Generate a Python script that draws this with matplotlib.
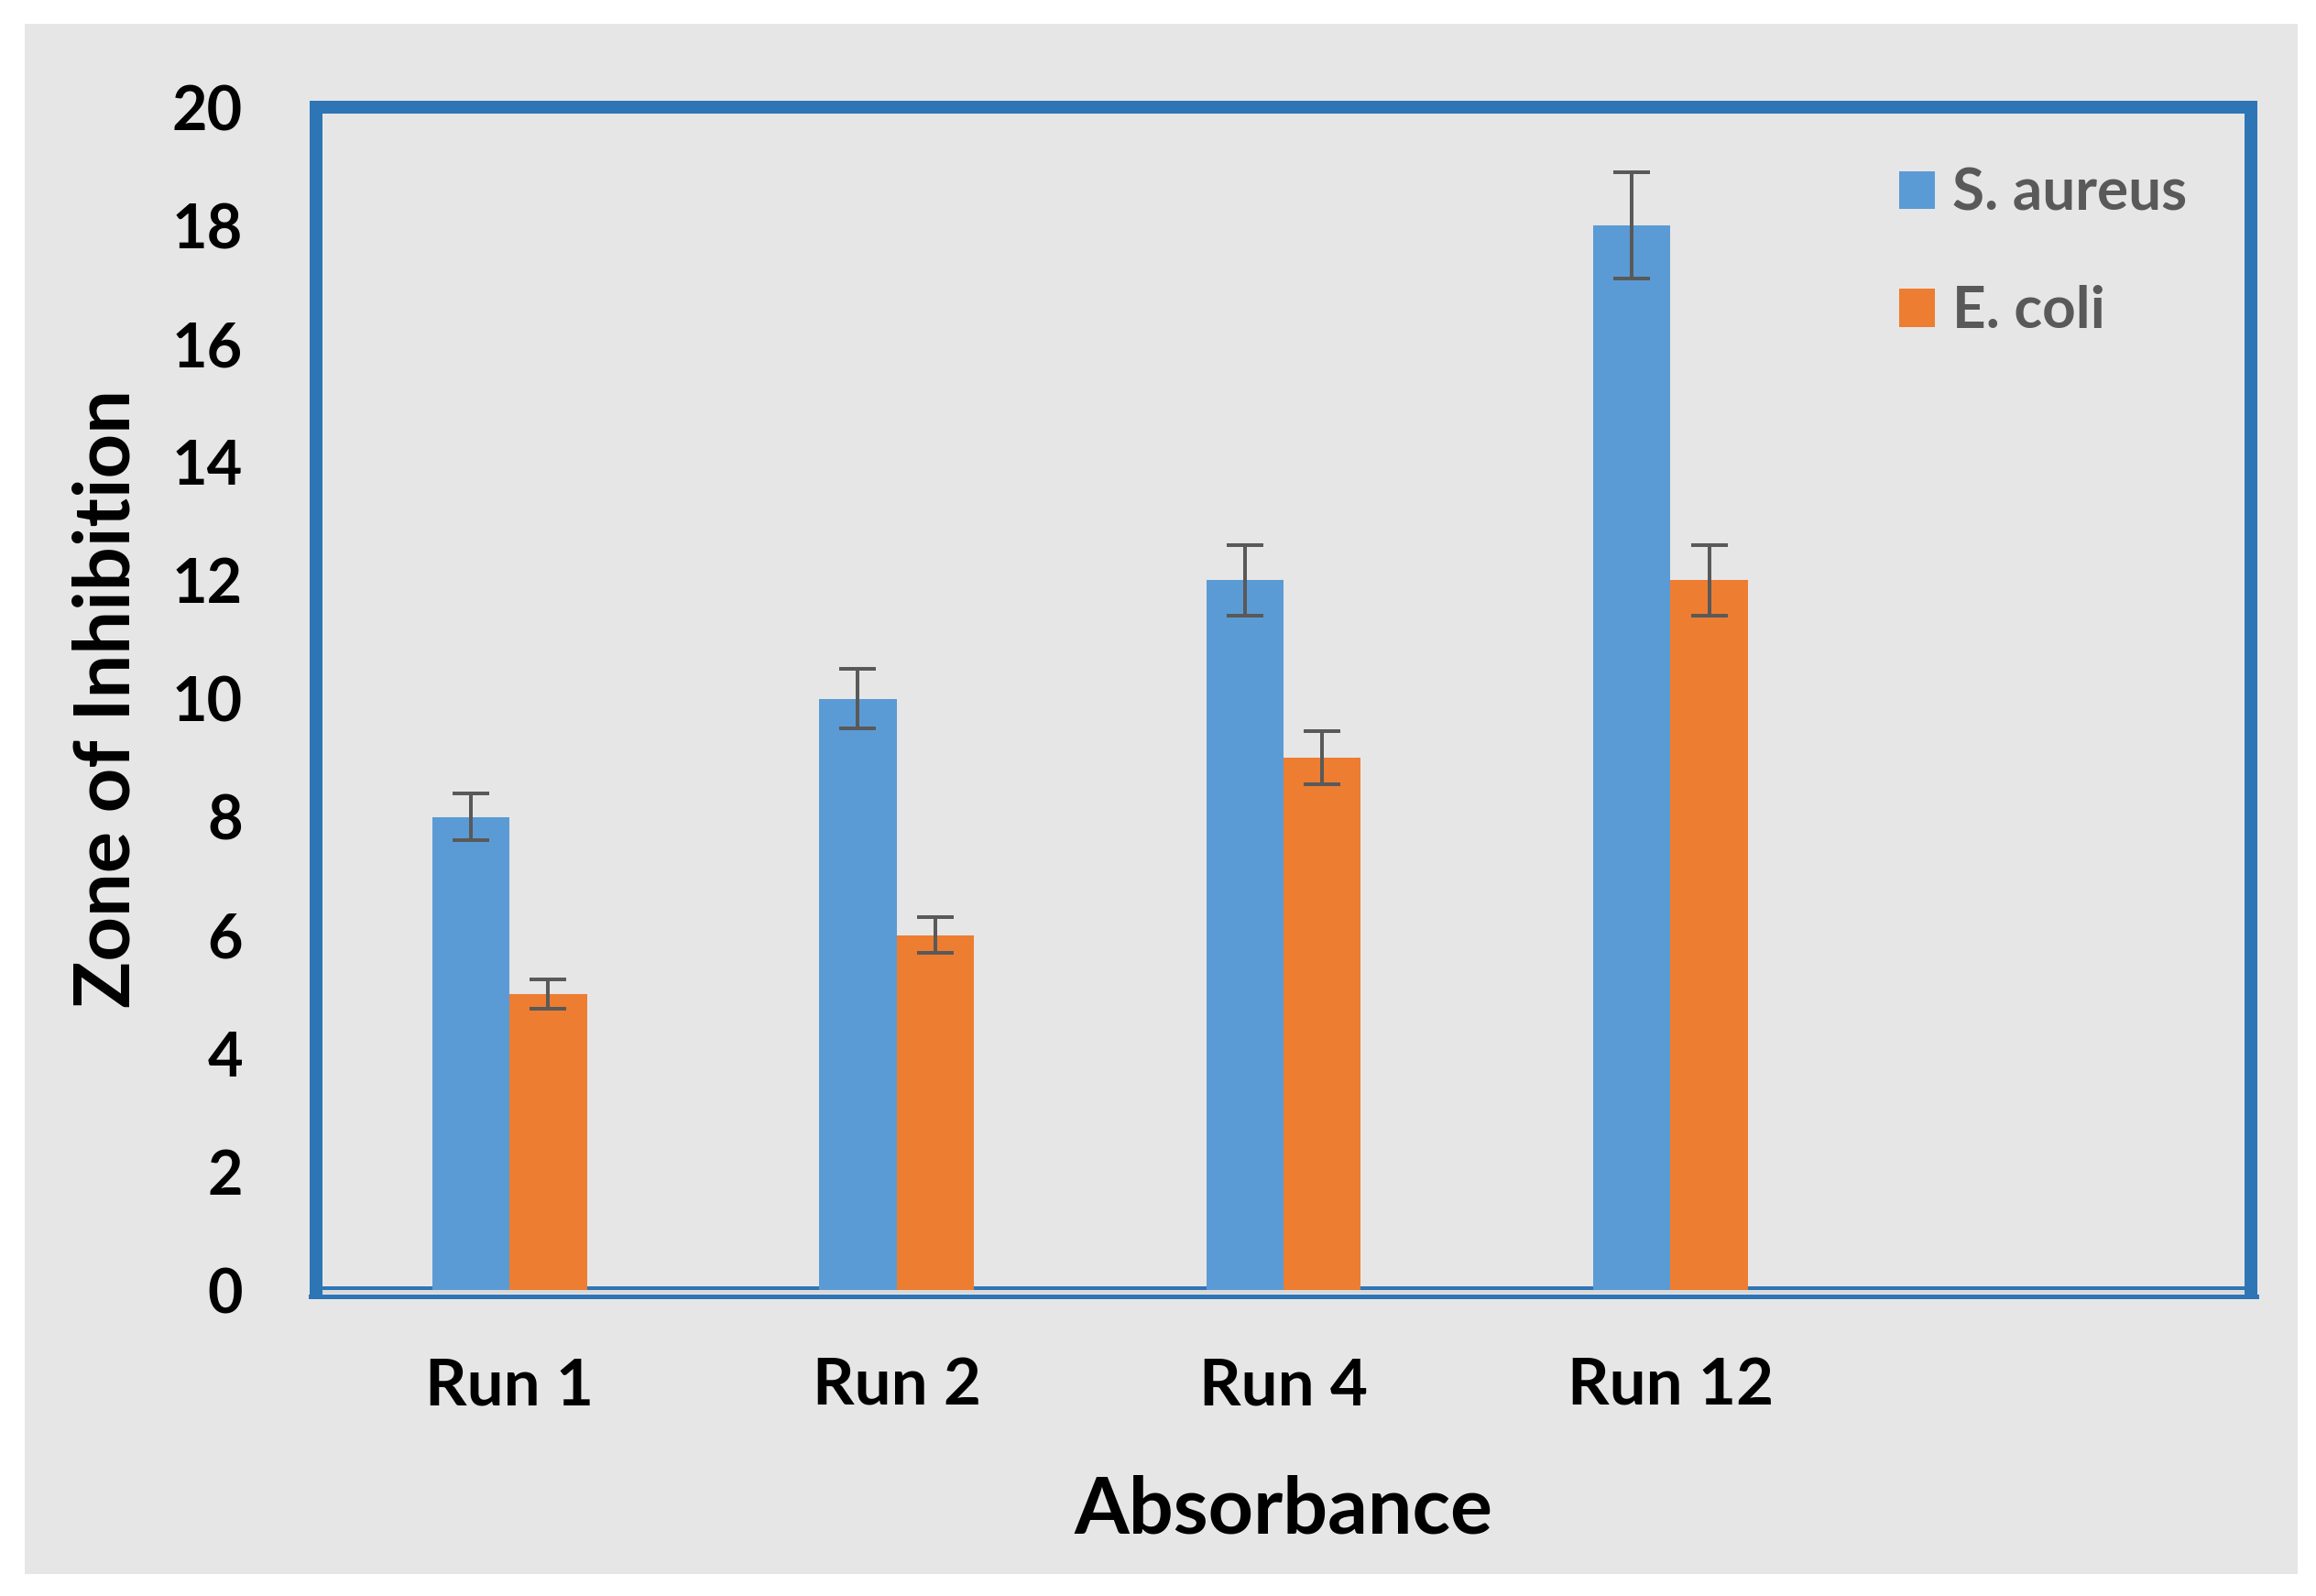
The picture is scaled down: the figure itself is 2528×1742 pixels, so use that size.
import matplotlib
matplotlib.use("Agg")
import matplotlib.pyplot as plt
import numpy as np
from matplotlib.patches import Rectangle, Patch
from matplotlib.lines import Line2D
from matplotlib.transforms import ScaledTranslation

categories = ["Run 1", "Run 2", "Run 4", "Run 12", ""]
series_names = ["S. aureus", "E. coli"]
s_aureus = [8, 10, 12, 18]
e_coli = [5, 6, 9, 12]
s_aureus_err = [0.4, 0.5, 0.6, 0.9]
e_coli_err = [0.25, 0.3, 0.45, 0.6]
y_ticks = [0, 2, 4, 6, 8, 10, 12, 14, 16, 18, 20]

BLUE = "#5b9bd5"
ORANGE = "#ed7d31"
FRAME = "#2e75b6"
ERR = "#595959"
BG = "#e6e6e6"
FONT = "Lato"

DPI = 200
W, H = 2528, 1742
fig = plt.figure(figsize=(W / DPI, H / DPI), dpi=DPI, facecolor="white")
px = 72 / DPI  # points per pixel

# gray chart area
bg = Rectangle((27 / W, 1 - 1718 / H), (2508 - 27) / W, (1718 - 26) / H,
               transform=fig.transFigure, facecolor=BG, edgecolor="none", zorder=-10)
fig.add_artist(bg)

ax = fig.add_axes([345 / W, 1 - 1408 / H, (2457 - 345) / W, (1408 - 117) / H])
ax.set_facecolor(BG)
ax.set_zorder(1)

x = np.arange(len(categories))
bw = 0.2
n = len(s_aureus)
ax.bar(x[:n] - bw / 2, s_aureus, bw, color=BLUE, zorder=3, label=series_names[0])
ax.bar(x[:n] + bw / 2, e_coli, bw, color=ORANGE, zorder=3, label=series_names[1])
ekw = dict(fmt="none", ecolor=ERR, elinewidth=4 * px, capsize=20 * px, capthick=4 * px, zorder=4)
ax.errorbar(x[:n] - bw / 2, s_aureus, yerr=s_aureus_err, **ekw)
ax.errorbar(x[:n] + bw / 2, e_coli, yerr=e_coli_err, **ekw)

ax.set_xlim(-0.5, len(categories) - 0.5)
ax.set_ylim(0, 20)
ax.set_yticks(y_ticks)
ax.set_xticks(x[:n])
ax.set_xticklabels(categories[:n])

for s in ["left", "top", "right"]:
    ax.spines[s].set_color(FRAME)
    ax.spines[s].set_linewidth(14 * px)
ax.spines["bottom"].set_visible(False)

# bottom double line (Excel style)
def off(dy):
    return ax.transAxes + ScaledTranslation(0, -dy / DPI, fig.dpi_scale_trans)
ax.add_line(Line2D([0, 1], [0, 0], transform=off(-2.5), color=FRAME, lw=5 * px, zorder=2, clip_on=False))
ax.add_line(Line2D([0, 1], [0, 0], transform=off(2), color="#d9d9d9", lw=4 * px, zorder=2, clip_on=False))
ax.add_line(Line2D([-0.003, 1.003], [0, 0], transform=off(6.5), color=FRAME, lw=5 * px, zorder=2, clip_on=False))

ax.tick_params(axis="both", length=0)
ax.tick_params(axis="y", pad=80 * px)
ax.tick_params(axis="x", pad=73 * px)
for lab in ax.get_yticklabels():
    lab.set_fontfamily(FONT)
    lab.set_fontweight("bold")
    lab.set_fontsize(24)
    lab.set_color("black")
for lab in ax.get_xticklabels():
    lab.set_fontfamily(FONT)
    lab.set_fontweight("bold")
    lab.set_fontsize(25.5)
    lab.set_color("black")

ax.set_xlabel("Absorbance", fontfamily=FONT, fontweight="bold", fontsize=31, labelpad=64 * px)
ax.set_ylabel("Zone of Inhibition", fontfamily=FONT, fontweight="bold", fontsize=30.5, labelpad=32 * px)

handles = [Patch(facecolor=BLUE, edgecolor="none"), Patch(facecolor=ORANGE, edgecolor="none")]
leg = ax.legend(handles, series_names, loc="upper left", bbox_to_anchor=(0.818, 0.949),
                frameon=False, handlelength=0.62, handleheight=0.62, handletextpad=0.3,
                labelspacing=1.12, borderpad=0, borderaxespad=0,
                prop=dict(family=FONT, weight="bold", size=23))
for t in leg.get_texts():
    t.set_color(ERR)

fig.savefig("out.png", dpi=DPI, facecolor="white")
